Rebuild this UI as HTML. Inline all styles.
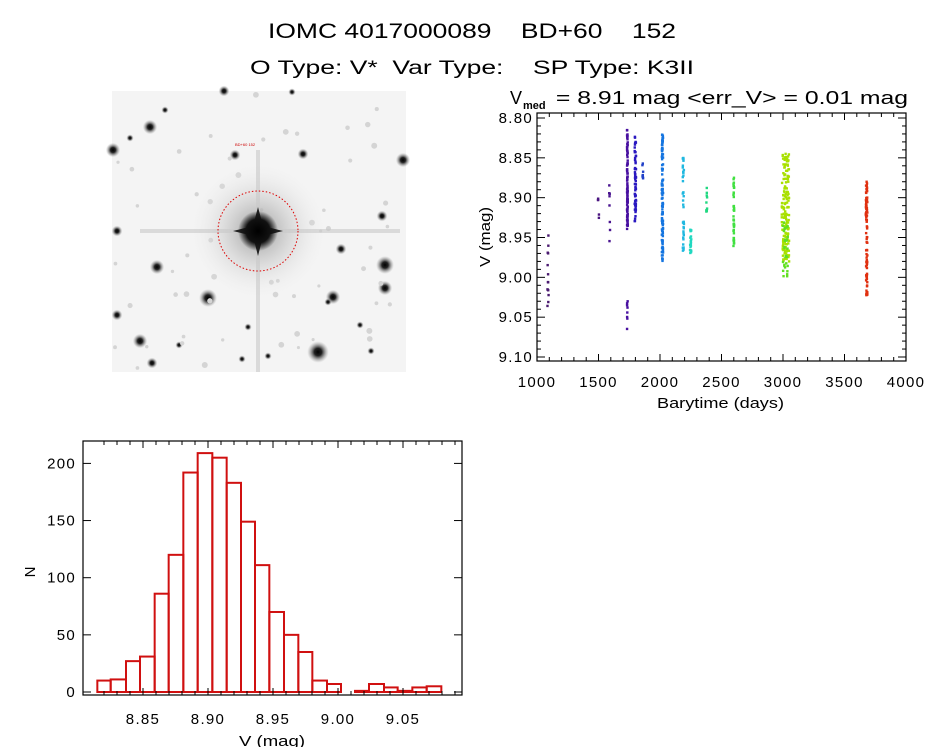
<!DOCTYPE html>
<html><head><meta charset="utf-8"><style>
html,body{margin:0;padding:0;background:#fff;}
svg{display:block;font-family:"Liberation Sans",sans-serif;}
.t{letter-spacing:1.3px;}
</style></head><body>
<svg id="s" width="944" height="747" viewBox="0 0 944 747" xmlns="http://www.w3.org/2000/svg">
<rect width="944" height="747" fill="#fff"/>
<text x="268" y="38" font-size="21" textLength="408" lengthAdjust="spacingAndGlyphs" xml:space="preserve">IOMC 4017000089    BD+60    152</text>
<text x="250" y="74" font-size="19" textLength="444" lengthAdjust="spacingAndGlyphs" xml:space="preserve">O Type: V*  Var Type:    SP Type: K3II</text>
<defs>
<radialGradient id="st"><stop offset="0" stop-color="#000"/><stop offset="0.35" stop-color="#222"/><stop offset="1" stop-color="#999" stop-opacity="0"/></radialGradient>
<radialGradient id="halo"><stop offset="0" stop-color="#999"/><stop offset="1" stop-color="#f4f4f4" stop-opacity="0"/></radialGradient>
<radialGradient id="core"><stop offset="0" stop-color="#000"/><stop offset="0.6" stop-color="#111"/><stop offset="1" stop-color="#111" stop-opacity="0"/></radialGradient>
</defs>
<rect x="112" y="91" width="294" height="281" fill="#f4f4f4"/>
<g id="stars"></g>
<circle cx="258" cy="231" r="70" fill="url(#halo)"/>
<rect x="140" y="229" width="260" height="4" fill="#c8c8c8" opacity="0.6"/>
<rect x="256" y="150" width="4" height="222" fill="#c8c8c8" opacity="0.6"/>
<path d="M258 207 L263 226 L283 231 L263 236 L258 256 L253 236 L233 231 L253 226 Z" fill="#222"/>
<circle cx="258" cy="231" r="20" fill="url(#core)"/>
<circle cx="258" cy="231" r="40" fill="none" stroke="#d00" stroke-width="1" stroke-dasharray="1.5,2"/>
<text x="235" y="146" font-size="4" fill="#c00">BD+60 152</text>
<text x="510" y="104" font-size="18">V</text>
<text x="523" y="109" font-size="11" font-weight="bold">med</text>
<text x="549" y="104" font-size="18" textLength="359" lengthAdjust="spacingAndGlyphs" xml:space="preserve"> = 8.91 mag &lt;err_V&gt; = 0.01 mag</text>
<g id="sc"></g>
<rect x="537" y="113" width="369" height="248" fill="none" stroke="#000" stroke-width="1.2"/>
<g id="ax1" font-size="15" class="t"></g>
<text x="657" y="408" font-size="15" textLength="127" lengthAdjust="spacingAndGlyphs">Barytime (days)</text>
<text transform="translate(490,237) rotate(-90)" font-size="15" text-anchor="middle" textLength="60" lengthAdjust="spacingAndGlyphs">V (mag)</text>
<g id="h"></g>
<rect x="83" y="441" width="379" height="254" fill="none" stroke="#000" stroke-width="1.2"/>
<g id="ax2" font-size="15" class="t"></g>
<text x="239" y="746" font-size="15" textLength="66" lengthAdjust="spacingAndGlyphs">V (mag)</text>
<text transform="translate(35,572) rotate(-90)" font-size="15" text-anchor="middle">N</text>
</svg>
<script>
var NS="http://www.w3.org/2000/svg";
function el(p,t,a,txt){var e=document.createElementNS(NS,t);for(var k in a)e.setAttribute(k,a[k]);if(txt!=null)e.textContent=txt;document.getElementById(p).appendChild(e);return e;}
var seed=7;function r(){seed=(seed*16807)%2147483647;return seed/2147483647;}
var st=[[150,127,4],[113,150,4],[403,160,4],[235,155,3],[157,267,4],[333,297,4],[385,265,5],[385,288,4],[208,298,5],[318,352,6],[140,341,4],[152,363,3],[117,315,3],[117,231,3],[341,249,3],[382,216,3],[303,154,3],[224,91,3],[292,92,2],[165,110,2],[248,327,2],[268,356,2],[242,359,2],[179,345,2],[130,138,2],[360,325,2],[371,351,2],[328,302,2]];
for(var i=0;i<st.length;i++){el("stars","circle",{cx:st[i][0],cy:st[i][1],r:st[i][2]*1.8,fill:"url(#st)"});}
for(var i=0;i<60;i++){el("stars","circle",{cx:115+r()*288,cy:94+r()*275,r:1.5+r()*1.5,fill:"#d4d4d4"});}
function X(d){return 537+(d-1000)*0.123;}function Y(m){return 118+(m-8.80)*796.7;}
var cl=[[1090,8.94,9.04,"#4a1a70",14,5],[1500,8.90,8.935,"#4a1580",5,4],[1590,8.88,8.955,"#4a1590",8,4],[1735,8.815,8.94,"#4810a0",90,3],[1735,9.03,9.07,"#4810a0",8,3],[1800,8.82,8.93,"#2a18c0",60,6],[1860,8.85,8.88,"#2040c8",8,3],[2020,8.82,8.98,"#1575e0",120,5],[2190,8.85,8.97,"#20b8e0",40,5],[2250,8.94,8.97,"#20d8c0",20,6],[2380,8.885,8.92,"#20d880",10,3],[2600,8.875,8.965,"#40e040",40,3],[3020,8.845,8.98,"#a8e000",150,30],[3020,8.93,9.0,"#60e020",30,20],[3680,8.88,9.025,"#e03010",90,6]];
for(var c=0;c<cl.length;c++){var k=cl[c];for(var i=0;i<k[4];i++){var m=k[1]+r()*(k[2]-k[1]);el("sc","rect",{x:X(k[0]+(r()-0.5)*k[5]*2)-1.2,y:Y(m)-1.2,width:2.4,height:2.4,fill:k[3]});}}
for(var d=1000;d<=4000;d+=500){el("ax1","text",{x:X(d),y:387,"text-anchor":"middle"},String(d));el("ax1","line",{x1:X(d),x2:X(d),y1:361,y2:354,stroke:"#000"});el("ax1","line",{x1:X(d),x2:X(d),y1:113,y2:120,stroke:"#000"});}
for(var d=1100;d<4000;d+=100){if(d%500==0)continue;el("ax1","line",{x1:X(d),x2:X(d),y1:361,y2:357,stroke:"#000"});el("ax1","line",{x1:X(d),x2:X(d),y1:113,y2:117,stroke:"#000"});}
for(var j=0;j<=6;j++){var m=8.80+j*0.05,y=Y(m);el("ax1","text",{x:533,y:y+5,"text-anchor":"end"},m.toFixed(2));el("ax1","line",{x1:537,x2:545,y1:y,y2:y,stroke:"#000"});el("ax1","line",{x1:906,x2:898,y1:y,y2:y,stroke:"#000"});}
for(var j=0;j<30;j++){if(j%5==0)continue;var y=Y(8.80+j*0.01);el("ax1","line",{x1:537,x2:541,y1:y,y2:y,stroke:"#000"});el("ax1","line",{x1:906,x2:902,y1:y,y2:y,stroke:"#000"});}
var ed=[232,272,318,360,404,446,490,533,577,620,663,705,748,792,835,877,921,963,1005,1047,1092,1133,1177,1220,1264];
var hv=[10,11,27,31,86,120,192,209,205,183,149,111,70,50,35,10,7,0,1,7,4,1,4,5];
function HX(z){return z/3+20;}function HY(n){return 692-n*1.143;}
for(var i=0;i<hv.length;i++){var x1=HX(ed[i]),x2=HX(ed[i+1]);el("h","rect",{x:x1,y:HY(hv[i]),width:x2-x1,height:692-HY(hv[i]),fill:"none",stroke:"#d01010","stroke-width":2});}
function VX(v){return 208+(v-8.90)*1300;}
var lab=[8.85,8.90,8.95,9.00,9.05];
for(var i=0;i<lab.length;i++){var x=VX(lab[i]);el("ax2","text",{x:x,y:724,"text-anchor":"middle"},lab[i].toFixed(2));el("ax2","line",{x1:x,x2:x,y1:695,y2:688,stroke:"#000"});el("ax2","line",{x1:x,x2:x,y1:441,y2:448,stroke:"#000"});}
for(var v=8.82;v<9.09;v+=0.01){var vv=Math.round(v*100)/100;if(Math.round(vv*100)%5==0)continue;var x=VX(vv);el("ax2","line",{x1:x,x2:x,y1:695,y2:691,stroke:"#000"});el("ax2","line",{x1:x,x2:x,y1:441,y2:445,stroke:"#000"});}
for(var n=0;n<=200;n+=50){var y=HY(n);el("ax2","text",{x:76,y:y+5,"text-anchor":"end"},String(n));el("ax2","line",{x1:83,x2:91,y1:y,y2:y,stroke:"#000"});el("ax2","line",{x1:462,x2:454,y1:y,y2:y,stroke:"#000"});}
</script>
</body></html>
